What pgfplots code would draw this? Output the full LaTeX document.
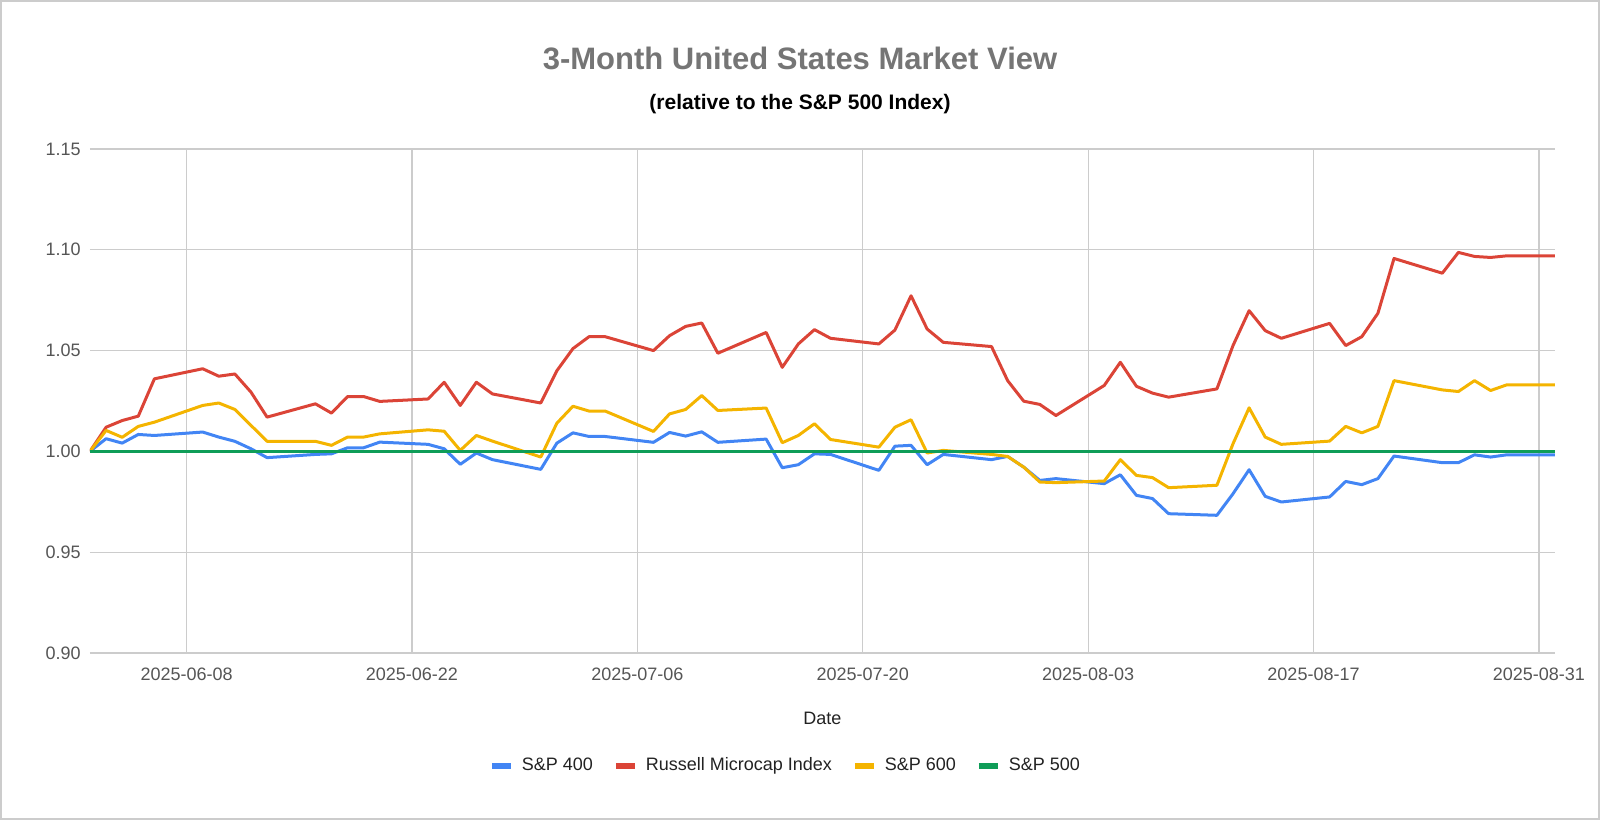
\documentclass[border=0pt]{standalone}
\usepackage{fontspec}
\setmainfont{Liberation Sans}
\usepackage{pgfplots}
\pgfplotsset{compat=1.18}

\definecolor{gblue}{HTML}{4285F4}
\definecolor{gred}{HTML}{DB4437}
\definecolor{gyellow}{HTML}{F4B400}
\definecolor{ggreen}{HTML}{0F9D58}
\definecolor{gridgray}{HTML}{CCCCCC}
\definecolor{ticktext}{HTML}{555555}
\definecolor{titlegray}{HTML}{757575}
\definecolor{darktext}{HTML}{222222}
\definecolor{bordergray}{HTML}{CCCCCC}

% day 0 = 2025-06-02; columns: day, value
\begin{document}
\begin{tikzpicture}
\path[use as bounding box] (0,0) rectangle (800bp,410bp);
\draw[bordergray, line width=1bp] (0.5bp,0.5bp) rectangle (799.5bp,409.5bp);

\begin{axis}[
  at={(45bp,83.5bp)}, anchor=south west,
  scale only axis, width=732.5bp, height=252bp,
  xmin=0, xmax=91, ymin=0.9, ymax=1.15,
  xtick={6,20,34,48,62,76,90},
  xticklabels={2025-06-08,2025-06-22,2025-07-06,2025-07-20,2025-08-03,2025-08-17,2025-08-31},
  ytick={0.9,0.95,1,1.05,1.1,1.15},
  grid=major,
  major grid style={draw=gridgray, line width=0.6bp},
  axis line style={draw=none},
  major tick length=0pt,
  tick label style={font=\fontsize{9bp}{10bp}\selectfont, text=ticktext},
  yticklabel style={inner sep=0pt, xshift=-4.5bp,
    /pgf/number format/.cd, fixed, fixed zerofill, precision=2, assume math mode=true},
  xticklabel style={inner sep=0pt, anchor=center, yshift=-10.5bp},
  xlabel={Date},
  xlabel style={at={(axis description cs:0.5,-0.129)}, anchor=center,
    font=\fontsize{9bp}{10bp}\selectfont, text=darktext},
  legend columns=4,
  legend style={at={(axis description cs:0.474,-0.224)}, anchor=center,
    draw=none, fill=none, font=\fontsize{9bp}{10bp}\selectfont, text=darktext,
    nodes={inner sep=0pt},
    /tikz/every odd column/.append style={column sep=4bp},
    /tikz/every even column/.append style={column sep=10bp}},
  legend image code/.code={\draw[#1, line width=3bp] (0bp,0bp) -- (9.5bp,0bp);},
  every axis plot/.append style={line width=1.5bp, line join=round},
]
% S&P 400
\addplot[gblue] coordinates {
(0,1.000) (1,1.0063) (2,1.0041) (3,1.0084) (4,1.0079)
(7,1.0096) (8,1.0071) (9,1.0050) (10,1.0013) (11,0.9969)
(14,0.9985) (15,0.9988) (16,1.0018) (17,1.0018) (18,1.0046)
(21,1.0035) (22,1.0013) (23,0.9936) (24,0.9992) (25,0.9959)
(28,0.9911) (29,1.0041) (30,1.0092) (31,1.0074) (32,1.0074)
(35,1.0045) (36,1.0094) (37,1.0076) (38,1.0097) (39,1.0045)
(42,1.0061) (43,0.9919) (44,0.9934) (45,0.9988) (46,0.9985)
(49,0.9906) (50,1.0026) (51,1.0030) (52,0.9934) (53,0.9985)
(56,0.9959) (57,0.9975) (58,0.9922) (59,0.9856) (60,0.9865)
(63,0.9840) (64,0.9884) (65,0.9782) (66,0.9766) (67,0.9691)
(70,0.9683) (71,0.9790) (72,0.9909) (73,0.9777) (74,0.9749)
(77,0.9774) (78,0.9851) (79,0.9835) (80,0.9865) (81,0.9977)
(84,0.9944) (85,0.9944) (86,0.9983) (87,0.9972) (88,0.9983)
(91,0.9983)
};
\addlegendentry{S\&P 400}
% Russell Microcap Index
\addplot[gred] coordinates {
(0,1.000) (1,1.0120) (2,1.0153) (3,1.0175) (4,1.0360)
(7,1.0410) (8,1.0373) (9,1.0384) (10,1.0294) (11,1.0170)
(14,1.0236) (15,1.0190) (16,1.0272) (17,1.0272) (18,1.0248)
(21,1.0260) (22,1.0343) (23,1.0228) (24,1.0343) (25,1.0285)
(28,1.0240) (29,1.0400) (30,1.0510) (31,1.0569) (32,1.0569)
(35,1.0500) (36,1.0574) (37,1.0620) (38,1.0637) (39,1.0487)
(42,1.0590) (43,1.0417) (44,1.0533) (45,1.0604) (46,1.0561)
(49,1.0533) (50,1.0602) (51,1.0772) (52,1.0607) (53,1.0541)
(56,1.0520) (57,1.0351) (58,1.0249) (59,1.0233) (60,1.0178)
(63,1.0327) (64,1.0442) (65,1.0323) (66,1.0289) (67,1.0269)
(70,1.0310) (71,1.0525) (72,1.0698) (73,1.0599) (74,1.0561)
(77,1.0635) (78,1.0525) (79,1.0569) (80,1.0685) (81,1.0957)
(84,1.0884) (85,1.0987) (86,1.0967) (87,1.0962) (88,1.0970)
(91,1.0970)
};
\addlegendentry{Russell Microcap Index}
% S&P 600
\addplot[gyellow] coordinates {
(0,1.000) (1,1.0104) (2,1.0070) (3,1.0124) (4,1.0145)
(7,1.0228) (8,1.0240) (9,1.0208) (10,1.0129) (11,1.0050)
(14,1.0050) (15,1.0030) (16,1.0071) (17,1.0071) (18,1.0087)
(21,1.0107) (22,1.0100) (23,1.0005) (24,1.0079) (25,1.0051)
(28,0.9972) (29,1.0140) (30,1.0224) (31,1.0200) (32,1.0200)
(35,1.0099) (36,1.0186) (37,1.0208) (38,1.0277) (39,1.0203)
(42,1.0215) (43,1.0043) (44,1.0079) (45,1.0137) (46,1.0059)
(49,1.0021) (50,1.0120) (51,1.0157) (52,0.9992) (53,1.0005)
(56,0.9985) (57,0.9975) (58,0.9922) (59,0.9848) (60,0.9845)
(63,0.9853) (64,0.9959) (65,0.9881) (66,0.9870) (67,0.9820)
(70,0.9832) (71,1.0038) (72,1.0216) (73,1.0071) (74,1.0035)
(77,1.0051) (78,1.0124) (79,1.0092) (80,1.0124) (81,1.0351)
(84,1.0305) (85,1.0297) (86,1.0351) (87,1.0302) (88,1.0330)
(91,1.0330)
};
\addlegendentry{S\&P 600}
% S&P 500
\addplot[ggreen] coordinates {(0,1.000) (91,1.000)};
\addlegendentry{S\&P 500}
\end{axis}

\node[font=\fontsize{15.5bp}{17bp}\selectfont\bfseries, text=titlegray] at (400bp,381bp) {3-Month United States Market View};
\node[font=\fontsize{10.5bp}{12bp}\selectfont\bfseries, text=black] at (400bp,358bp) {(relative to the S\&P 500 Index)};
\end{tikzpicture}
\end{document}
